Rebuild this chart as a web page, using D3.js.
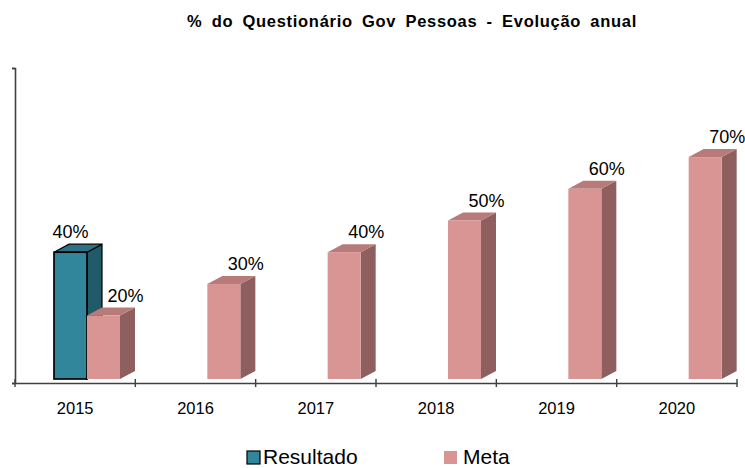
<!DOCTYPE html>
<html><head><meta charset="utf-8">
<script src="https://cdn.jsdelivr.net/npm/d3@7"></script>
<style>body{margin:0;background:#fff}svg{display:block}</style>
</head><body>
<script>
const years = ["2015","2016","2017","2018","2019","2020"];
const series = ["Resultado","Meta"];
const resultado = [40, null, null, null, null, null];
const meta = [20, 30, 40, 50, 60, 70];

const W = 745, H = 468;
const svg = d3.select("body").append("svg").attr("width", W).attr("height", H)
  .style("font-family", "'Liberation Sans', Arial, sans-serif");

const colors = {
  Resultado: {front: "#31869b", side: "#215a68", top: "#2a7285", stroke: "#000"},
  Meta: {front: "#d99594", side: "#8e5f5e", top: "#b97b7a", stroke: "none"}
};

const x = d3.scaleBand().domain(years).range([15, 737]).padding(0);
const xs = d3.scaleBand().domain(series).range([39, 105]).padding(0);
const y = d3.scaleLinear().domain([0, 100]).range([379, 62]);
const yAxisScale = d3.scaleLinear().domain([0, 98]).range([383, 68]);
const dx = 15, dy = 8;

// title
svg.append("text").attr("x", 412).attr("y", 27).attr("text-anchor", "middle")
  .attr("font-weight", "bold").attr("font-size", 16.5).attr("fill", "#000")
  .attr("letter-spacing", 0.7).attr("word-spacing", 4)
  .text("% do Questionário Gov Pessoas - Evolução anual");

// axes
const yAx = svg.append("g").attr("transform", "translate(15,0)")
  .call(d3.axisLeft(yAxisScale).tickValues([0, 98]).tickSize(3).tickFormat(""));
yAx.select(".domain").attr("stroke", "#404040").attr("stroke-width", 1.6);
yAx.selectAll(".tick line").attr("stroke", "#404040").attr("stroke-width", 1.6);

const xAx = svg.append("g").attr("transform", "translate(0,383)")
  .call(d3.axisBottom(x).tickSize(0).tickPadding(19));
xAx.select(".domain").attr("stroke", "#404040").attr("stroke-width", 1.6);
xAx.selectAll("text").attr("font-size", 16.5).attr("fill", "#000")
  .attr("font-family", "'Liberation Sans', Arial, sans-serif");
const bounds = d3.range(years.length + 1).map(i => x.range()[0] + i * x.bandwidth());
svg.append("g").selectAll("line").data(bounds).join("line")
  .attr("x1", d => d).attr("x2", d => d).attr("y1", 379).attr("y2", 387)
  .attr("stroke", "#404040").attr("stroke-width", 1.4);

// bars
const data = [];
years.forEach((yr, i) => {
  if (resultado[i] != null) data.push({yr, s: "Resultado", v: resultado[i]});
  if (meta[i] != null) data.push({yr, s: "Meta", v: meta[i]});
});

const g = svg.append("g");
data.forEach(d => {
  const c = colors[d.s];
  const x0 = x(d.yr) + xs(d.s), w = xs.bandwidth();
  const yt = y(d.v), yb = y(0);
  const sw = c.stroke === "none" ? 0 : 1.2;
  g.append("path").attr("d", `M${x0 + w},${yt} L${x0 + w + dx},${yt - dy} L${x0 + w + dx},${yb - dy} L${x0 + w},${yb} Z`)
    .attr("fill", c.side).attr("stroke", c.stroke).attr("stroke-width", sw);
  g.append("path").attr("d", `M${x0},${yt} L${x0 + dx},${yt - dy} L${x0 + w + dx},${yt - dy} L${x0 + w},${yt} Z`)
    .attr("fill", c.top).attr("stroke", c.stroke).attr("stroke-width", sw);
  g.append("rect").attr("x", x0).attr("y", yt).attr("width", w).attr("height", yb - yt)
    .attr("fill", c.front).attr("stroke", c.stroke).attr("stroke-width", sw * 1.4);
  const off = d.s === "Meta" ? 22 : 0;
  g.append("text").attr("x", x0 + w / 2 + off).attr("y", yt - 14)
    .attr("text-anchor", "middle").attr("font-size", 18).attr("fill", "#000")
    .text(d.v + "%");
});

// legend
const leg = svg.append("g");
const legX = {Resultado: 247, Meta: 444};
series.forEach(s => {
  const c = colors[s];
  leg.append("rect").attr("x", legX[s]).attr("y", 451).attr("width", 13).attr("height", 13)
    .attr("fill", c.front).attr("stroke", c.stroke === "none" ? "none" : "#000").attr("stroke-width", 1.2);
  leg.append("text").attr("x", legX[s] + (s === "Meta" ? 19 : 16)).attr("y", 464)
    .attr("font-size", 21).attr("fill", "#000").text(s);
});
</script>
</body></html>
